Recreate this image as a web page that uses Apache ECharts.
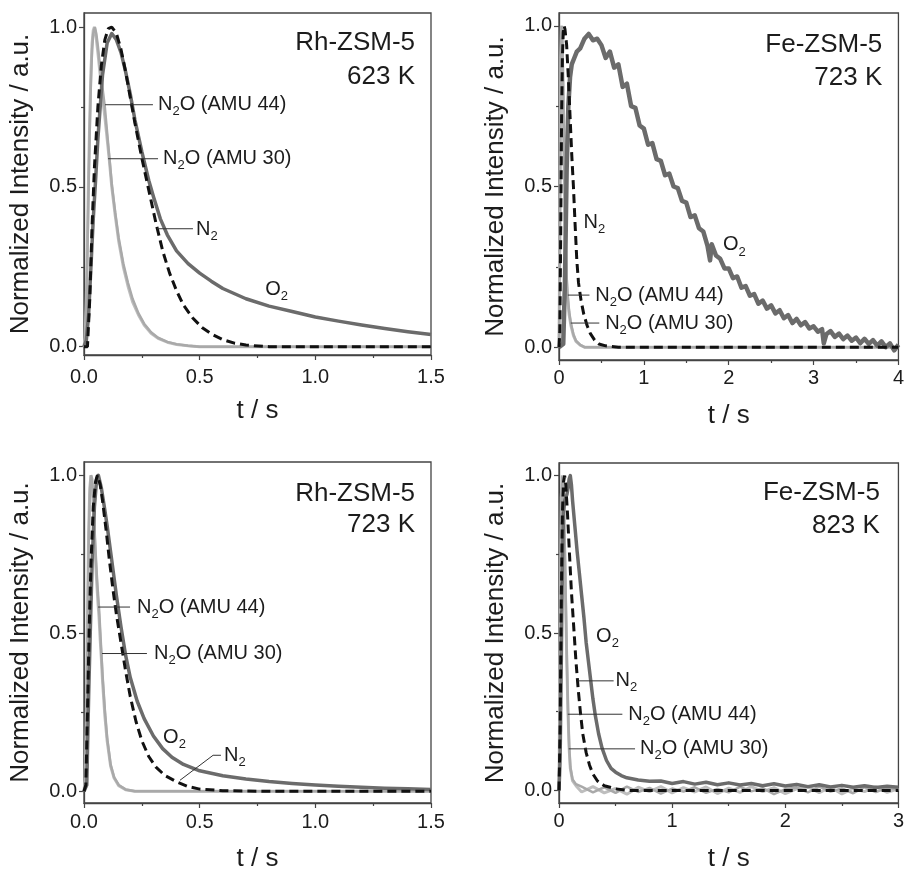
<!DOCTYPE html>
<html>
<head>
<meta charset="utf-8">
<script src="https://cdn.jsdelivr.net/npm/echarts@6/dist/echarts.min.js"></script>
<style>
  html, body { margin: 0; padding: 0; background: #fff; }
  #chart { width: 907px; height: 873px; }
</style>
</head>
<body>
<div id="chart"></div>
<script>
// ---------- Transient responses, [t / s, normalized intensity] ----------

// Rh-ZSM-5, 623 K
const rh623_N2O44 = [[0,0],[0.005,0.02],[0.01,0.12],[0.015,0.3],[0.02,0.5],[0.025,0.68],[0.03,0.83],[0.035,0.93],[0.04,0.98],[0.047,1.0],[0.053,0.98],[0.06,0.94],[0.07,0.87],[0.08,0.81],[0.09,0.75],[0.1,0.67],[0.11,0.59],[0.12,0.51],[0.135,0.42],[0.15,0.34],[0.17,0.26],[0.19,0.2],[0.21,0.15],[0.235,0.105],[0.26,0.072],[0.29,0.045],[0.32,0.028],[0.36,0.015],[0.4,0.008],[0.45,0.003],[0.5,0],[1.5,0]];
const rh623_N2O30 = [[0,0],[0.005,0.03],[0.01,0.15],[0.015,0.34],[0.02,0.55],[0.025,0.72],[0.03,0.86],[0.035,0.95],[0.04,0.99],[0.045,1.0],[0.052,0.97],[0.06,0.92],[0.07,0.85],[0.08,0.78],[0.09,0.72],[0.1,0.65],[0.11,0.58],[0.12,0.5],[0.135,0.41],[0.15,0.33],[0.17,0.25],[0.19,0.19],[0.21,0.14],[0.235,0.1],[0.26,0.068],[0.29,0.042],[0.32,0.026],[0.36,0.014],[0.4,0.007],[0.45,0.003],[0.5,0],[1.5,0]];
const rh623_O2 = [[0,0],[0.01,0.02],[0.02,0.1],[0.03,0.25],[0.04,0.4],[0.05,0.52],[0.06,0.65],[0.08,0.85],[0.1,0.95],[0.12,0.98],[0.14,0.96],[0.16,0.92],[0.18,0.86],[0.2,0.79],[0.22,0.71],[0.25,0.61],[0.28,0.52],[0.3,0.47],[0.33,0.4],[0.36,0.35],[0.4,0.3],[0.45,0.26],[0.5,0.23],[0.55,0.205],[0.6,0.182],[0.7,0.15],[0.8,0.127],[0.9,0.11],[1.0,0.093],[1.1,0.08],[1.2,0.068],[1.3,0.057],[1.4,0.047],[1.5,0.038]];
const rh623_N2 = [[0,0],[0.015,0],[0.025,0.15],[0.035,0.38],[0.045,0.56],[0.06,0.75],[0.075,0.88],[0.09,0.96],[0.105,0.995],[0.12,1.0],[0.14,0.98],[0.16,0.93],[0.18,0.86],[0.2,0.78],[0.22,0.7],[0.25,0.59],[0.28,0.49],[0.31,0.39],[0.34,0.3],[0.37,0.23],[0.4,0.175],[0.43,0.13],[0.47,0.09],[0.51,0.06],[0.55,0.04],[0.6,0.022],[0.65,0.011],[0.7,0.005],[0.8,0],[1.5,0]];

// Fe-ZSM-5, 723 K
const fe723_N2O44 = [[0,0],[0.01,0.3],[0.02,0.85],[0.03,1.0],[0.04,0.95],[0.05,0.8],[0.06,0.6],[0.07,0.43],[0.08,0.3],[0.09,0.22],[0.1,0.17],[0.12,0.11],[0.14,0.075],[0.17,0.04],[0.2,0.02],[0.25,0.007],[0.3,0],[4,0]];
const fe723_N2O30 = [[0,0],[0.01,0.35],[0.02,0.9],[0.028,1.0],[0.04,0.92],[0.05,0.76],[0.06,0.56],[0.07,0.4],[0.08,0.28],[0.09,0.2],[0.1,0.155],[0.12,0.1],[0.14,0.068],[0.17,0.036],[0.2,0.018],[0.25,0.006],[0.3,0],[4,0]];
const fe723_O2 = [[0,0],[0.05,0.01],[0.07,0.2],[0.09,0.55],[0.11,0.75],[0.13,0.84],[0.15,0.88],[0.18,0.9],[0.21,0.92],[0.25,0.93],[0.3,0.96],[0.35,0.975],[0.4,0.955],[0.45,0.96],[0.5,0.94],[0.55,0.9],[0.6,0.92],[0.65,0.87],[0.7,0.88],[0.75,0.81],[0.8,0.82],[0.85,0.75],[0.9,0.745],[0.95,0.69],[1.0,0.68],[1.05,0.63],[1.1,0.635],[1.15,0.585],[1.2,0.58],[1.25,0.535],[1.3,0.54],[1.35,0.5],[1.4,0.495],[1.45,0.455],[1.5,0.45],[1.55,0.405],[1.6,0.41],[1.65,0.37],[1.7,0.36],[1.75,0.315],[1.78,0.27],[1.8,0.32],[1.85,0.285],[1.9,0.275],[1.95,0.245],[2.0,0.245],[2.05,0.215],[2.1,0.22],[2.15,0.185],[2.2,0.19],[2.25,0.16],[2.3,0.165],[2.35,0.135],[2.4,0.145],[2.45,0.12],[2.5,0.13],[2.55,0.105],[2.6,0.115],[2.65,0.09],[2.7,0.1],[2.75,0.075],[2.8,0.088],[2.85,0.068],[2.9,0.078],[2.95,0.058],[3.0,0.065],[3.05,0.048],[3.1,0.056],[3.12,0.012],[3.15,0.04],[3.2,0.05],[3.25,0.032],[3.3,0.042],[3.35,0.025],[3.4,0.036],[3.45,0.02],[3.5,0.03],[3.55,0.012],[3.6,0.026],[3.65,0.01],[3.7,0.022],[3.75,0.005],[3.8,0.018],[3.85,0.0],[3.9,0.012],[3.95,-0.01],[4.0,0.008]];
const fe723_N2 = [[0,0],[0.01,0.05],[0.02,0.35],[0.03,0.7],[0.04,0.9],[0.05,0.98],[0.06,1.0],[0.07,0.99],[0.09,0.94],[0.11,0.84],[0.13,0.72],[0.15,0.6],[0.17,0.5],[0.19,0.38],[0.21,0.27],[0.23,0.2],[0.26,0.145],[0.29,0.105],[0.33,0.068],[0.37,0.042],[0.42,0.022],[0.47,0.01],[0.55,0.004],[0.7,0],[4,0]];

// Rh-ZSM-5, 723 K
const rh723_N2O44 = [[0,0],[0.005,0.03],[0.01,0.2],[0.015,0.5],[0.02,0.78],[0.025,0.94],[0.03,1.0],[0.035,0.99],[0.04,0.93],[0.045,0.84],[0.05,0.76],[0.055,0.69],[0.06,0.63],[0.065,0.58],[0.07,0.51],[0.075,0.44],[0.08,0.37],[0.09,0.26],[0.1,0.17],[0.115,0.085],[0.13,0.045],[0.15,0.02],[0.18,0.006],[0.22,0],[1.5,0]];
const rh723_N2O30 = [[0,0],[0.005,0.04],[0.01,0.24],[0.015,0.55],[0.02,0.82],[0.025,0.96],[0.03,1.0],[0.035,0.97],[0.04,0.9],[0.045,0.81],[0.05,0.73],[0.055,0.66],[0.06,0.6],[0.065,0.55],[0.07,0.48],[0.075,0.42],[0.08,0.35],[0.09,0.24],[0.1,0.16],[0.115,0.08],[0.13,0.042],[0.15,0.018],[0.18,0.005],[0.22,0],[1.5,0]];
const rh723_O2 = [[0,0],[0.012,0.02],[0.02,0.3],[0.027,0.5],[0.035,0.72],[0.045,0.9],[0.055,0.99],[0.062,1.0],[0.075,0.96],[0.09,0.89],[0.1,0.84],[0.12,0.73],[0.14,0.62],[0.16,0.52],[0.18,0.43],[0.2,0.36],[0.23,0.285],[0.26,0.23],[0.3,0.175],[0.34,0.135],[0.38,0.108],[0.43,0.085],[0.5,0.065],[0.6,0.049],[0.7,0.039],[0.8,0.031],[0.9,0.025],[1.0,0.02],[1.1,0.016],[1.2,0.013],[1.3,0.01],[1.4,0.008],[1.5,0.006]];
const rh723_N2 = [[0,0],[0.008,0.02],[0.015,0.25],[0.022,0.5],[0.03,0.72],[0.04,0.9],[0.05,0.98],[0.058,1.0],[0.07,0.97],[0.08,0.92],[0.095,0.83],[0.11,0.73],[0.125,0.64],[0.14,0.56],[0.16,0.47],[0.18,0.38],[0.2,0.3],[0.225,0.22],[0.25,0.16],[0.28,0.11],[0.31,0.077],[0.35,0.05],[0.4,0.03],[0.45,0.015],[0.5,0.007],[0.6,0.002],[0.8,0],[1.5,0]];

// Fe-ZSM-5, 823 K
const fe823_N2O44 = [[0,0],[0.01,0.45],[0.02,0.9],[0.03,1.0],[0.04,0.93],[0.05,0.8],[0.06,0.6],[0.07,0.41],[0.08,0.25],[0.09,0.14],[0.1,0.075],[0.12,0.035],[0.15,0.02],[0.2,0.012],[0.3,-0.006],[0.4,0.01],[0.5,-0.008],[0.6,0.012],[0.7,-0.005],[0.8,0.008],[0.9,-0.01],[1.0,0.006],[1.1,-0.004],[1.2,0.01],[1.3,-0.008],[1.4,0.005],[1.5,-0.006],[1.6,0.011],[1.7,-0.003],[1.8,0.007],[1.9,-0.012],[2.0,0.004],[2.1,0.009],[2.2,-0.006],[2.3,0.012],[2.4,-0.004],[2.5,0.006],[2.6,-0.009],[2.7,0.01],[2.8,-0.005],[2.9,0.008],[3.0,0.002]];
const fe823_N2O30 = [[0,0],[0.01,0.5],[0.02,0.93],[0.028,1.0],[0.04,0.9],[0.05,0.76],[0.06,0.57],[0.07,0.39],[0.08,0.24],[0.09,0.13],[0.1,0.07],[0.12,0.03],[0.15,0.015],[0.2,-0.005],[0.3,0.012],[0.4,-0.008],[0.5,0.006],[0.6,-0.012],[0.7,0.01],[0.8,-0.004],[0.9,0.012],[1.0,-0.008],[1.1,0.009],[1.2,-0.005],[1.3,0.011],[1.4,-0.01],[1.5,0.007],[1.6,-0.006],[1.7,0.012],[1.8,-0.004],[1.9,0.009],[2.0,-0.01],[2.1,0.005],[2.2,0.011],[2.3,-0.007],[2.4,0.01],[2.5,-0.011],[2.6,0.006],[2.7,-0.004],[2.8,0.012],[2.9,-0.006],[3.0,0.005]];
const fe823_O2 = [[0,0],[0.01,0.1],[0.02,0.4],[0.03,0.72],[0.04,0.88],[0.05,0.92],[0.06,0.93],[0.07,0.94],[0.08,0.96],[0.09,0.99],[0.1,1.0],[0.11,0.97],[0.12,0.92],[0.14,0.84],[0.16,0.76],[0.18,0.69],[0.2,0.62],[0.22,0.55],[0.24,0.47],[0.26,0.41],[0.28,0.35],[0.3,0.29],[0.32,0.24],[0.35,0.18],[0.38,0.135],[0.42,0.095],[0.46,0.07],[0.5,0.058],[0.55,0.047],[0.6,0.04],[0.7,0.033],[0.8,0.029],[0.9,0.03],[1.0,0.022],[1.1,0.028],[1.2,0.02],[1.3,0.026],[1.4,0.018],[1.5,0.024],[1.6,0.017],[1.7,0.022],[1.8,0.015],[1.9,0.021],[2.0,0.014],[2.1,0.019],[2.2,0.012],[2.3,0.018],[2.4,0.011],[2.5,0.016],[2.6,0.01],[2.7,0.015],[2.8,0.009],[2.9,0.013],[3.0,0.01]];
const fe823_N2 = [[0,0],[0.01,0.2],[0.02,0.6],[0.03,0.88],[0.04,0.98],[0.05,1.0],[0.06,0.97],[0.075,0.88],[0.09,0.77],[0.11,0.63],[0.13,0.52],[0.15,0.41],[0.17,0.32],[0.19,0.245],[0.21,0.18],[0.24,0.12],[0.27,0.08],[0.3,0.052],[0.34,0.03],[0.4,0.015],[0.5,0.005],[0.6,0],[3,0]];

// ---------- Tick values ----------
const yTicks = [0, 0.5, 1.0];
const yMinorTicks = [0.25, 0.75];
const xTicksRh = [0, 0.5, 1.0, 1.5];
const xMinorRh = [0.25, 0.75, 1.25];
const xTicksFe723 = [0, 1, 2, 3, 4];
const xMinorFe723 = [0.5, 1.5, 2.5, 3.5];
const xTicksFe823 = [0, 1, 2, 3];
const xMinorFe823 = [0.5, 1.5, 2.5];

// ---------- Panel texts ([t, v] anchors in data units) ----------
const titlesRh623 = ['Rh-ZSM-5', '623 K'];
const titlesFe723 = ['Fe-ZSM-5', '723 K'];
const titlesRh723 = ['Rh-ZSM-5', '723 K'];
const titlesFe823 = ['Fe-ZSM-5', '823 K'];

// each note: text (with _x marking a subscript), text anchor, optional leader path
const notesRh623 = [
  { text: 'N_2O (AMU 44)', at: [0.32, 0.757], leader: [[0.091, 0.757], [0.298, 0.757]] },
  { text: 'N_2O (AMU 30)', at: [0.342, 0.588], leader: [[0.104, 0.588], [0.32, 0.588]] },
  { text: 'N_2', at: [0.484, 0.367], leader: [[0.316, 0.369], [0.471, 0.369]] },
  { text: 'O_2', at: [0.783, 0.178] }
];
const notesFe723 = [
  { text: 'N_2', at: [0.289, 0.389] },
  { text: 'O_2', at: [1.933, 0.318] },
  { text: 'N_2O (AMU 44)', at: [0.428, 0.162], leader: [[0.104, 0.162], [0.359, 0.162]] },
  { text: 'N_2O (AMU 30)', at: [0.544, 0.075], leader: [[0.139, 0.075], [0.475, 0.075]] }
];
const notesRh723 = [
  { text: 'N_2O (AMU 44)', at: [0.229, 0.583], leader: [[0.061, 0.583], [0.199, 0.583]] },
  { text: 'N_2O (AMU 30)', at: [0.303, 0.436], leader: [[0.078, 0.436], [0.272, 0.436]] },
  { text: 'O_2', at: [0.342, 0.17] },
  { text: 'N_2', at: [0.605, 0.114], leader: [[0.592, 0.114], [0.558, 0.114], [0.415, 0.035]] }
];
const notesFe823 = [
  { text: 'O_2', at: [0.328, 0.488] },
  { text: 'N_2', at: [0.5, 0.348], leader: [[0.164, 0.348], [0.483, 0.348]] },
  { text: 'N_2O (AMU 44)', at: [0.612, 0.242], leader: [[0.078, 0.242], [0.56, 0.242]] },
  { text: 'N_2O (AMU 30)', at: [0.716, 0.132], leader: [[0.086, 0.132], [0.672, 0.132]] }
];

// ---------- Layout & styling ----------
const FONT = '"Liberation Sans", Arial, Helvetica, sans-serif';
const INK = '#1c1c1c';
const AXIS = '#444';
const C_O2 = '#6b6b6b', C_44 = '#a9a9a9', C_30 = '#bebebe', C_N2 = '#111111';

const panels = [
  { grid: { left: 84, top: 13, width: 347, height: 342 }, yMin: -0.026, yMax: 1.044, xMax: 1.5,
    xTicks: xTicksRh, xMinor: xMinorRh, xDec: 1, xMargin: 12, titles: titlesRh623, titleAt: [1.431, 0.951, 0.845],
    notes: notesRh623, o2w: 3.5, series: [rh623_N2O30, rh623_N2O44, rh623_O2, rh623_N2] },
  { grid: { left: 559, top: 13, width: 346, height: 347 }, yMin: -0.04, yMax: 1.04, xMax: 4,
    xTicks: xTicksFe723, xMinor: xMinorFe723, xDec: 0, xMargin: 8, titles: titlesFe723, titleAt: [3.81, 0.941, 0.838],
    notes: notesFe723, o2w: 4.5, series: [fe723_N2O30, fe723_N2O44, fe723_O2, fe723_N2] },
  { grid: { left: 84, top: 462, width: 347, height: 345 }, yMin: -0.037, yMax: 1.042, xMax: 1.5,
    xTicks: xTicksRh, xMinor: xMinorRh, xDec: 1, xMargin: 9, titles: titlesRh723, titleAt: [1.431, 0.942, 0.842],
    notes: notesRh723, o2w: 3.5, series: [rh723_N2O30, rh723_N2O44, rh723_O2, rh723_N2] },
  { grid: { left: 559, top: 463, width: 348, height: 345 }, yMin: -0.04, yMax: 1.04, xMax: 3,
    xTicks: xTicksFe823, xMinor: xMinorFe823, xDec: 0, xMargin: 8, titles: titlesFe823, titleAt: [2.836, 0.945, 0.842],
    notes: notesFe823, o2w: 3.5, series: [fe823_N2O30, fe823_N2O44, fe823_O2, fe823_N2] }
];

const tickLine = { color: AXIS, width: 1.2 };
const grids = [], xAxes = [], yAxes = [], series = [];

panels.forEach((p, i) => {
  grids.push(Object.assign({ show: true, borderColor: AXIS, borderWidth: 1.3, containLabel: false }, p.grid));
  // main x axis: line, labelled ticks, name
  xAxes.push({
    type: 'value', gridIndex: i, position: 'bottom', min: 0, max: p.xMax,
    axisLine: { show: true, onZero: false, lineStyle: { color: AXIS, width: 1.3 } },
    axisTick: { show: true, inside: false, length: 5, lineStyle: tickLine, customValues: p.xTicks },
    axisLabel: { show: true, margin: p.xMargin, fontSize: 20, fontFamily: FONT, color: INK,
      customValues: p.xTicks, formatter: v => Number(v).toFixed(p.xDec) },
    splitLine: { show: false },
    name: 't / s', nameLocation: 'middle', nameGap: 43,
    nameTextStyle: { fontSize: 26, fontFamily: FONT, color: INK }
  });
  // short minor ticks
  xAxes.push({
    type: 'value', gridIndex: i, position: 'bottom', min: 0, max: p.xMax,
    axisLine: { show: false, onZero: false },
    axisTick: { show: true, inside: false, length: 3, lineStyle: tickLine, customValues: p.xMinor },
    axisLabel: { show: false }, splitLine: { show: false }
  });
  yAxes.push({
    type: 'value', gridIndex: i, position: 'left', min: p.yMin, max: p.yMax,
    axisLine: { show: true, onZero: false, lineStyle: { color: AXIS, width: 1.3 } },
    axisTick: { show: true, inside: false, length: 5, lineStyle: tickLine, customValues: yTicks },
    axisLabel: { show: true, margin: 7, fontSize: 20, fontFamily: FONT, color: INK,
      customValues: yTicks, formatter: v => Number(v).toFixed(1) },
    splitLine: { show: false },
    name: 'Normalized Intensity / a.u.', nameLocation: 'middle', nameGap: 50,
    nameTextStyle: { fontSize: 26, fontFamily: FONT, color: INK }
  });
  yAxes.push({
    type: 'value', gridIndex: i, position: 'left', min: p.yMin, max: p.yMax,
    axisLine: { show: false, onZero: false },
    axisTick: { show: true, inside: false, length: 3, lineStyle: tickLine, customValues: yMinorTicks },
    axisLabel: { show: false }, splitLine: { show: false }
  });

  const [d30, d44, dO2, dN2] = p.series;
  const base = { type: 'line', xAxisIndex: 2 * i, yAxisIndex: 2 * i, showSymbol: false, symbol: 'none',
    animation: false, silent: true };
  series.push(Object.assign({}, base, { name: 'N2O (AMU 30)', data: d30, z: 2,
    lineStyle: { color: C_30, width: 3 } }));
  series.push(Object.assign({}, base, { name: 'N2O (AMU 44)', data: d44, z: 3,
    lineStyle: { color: C_44, width: 2.5 } }));
  series.push(Object.assign({}, base, { name: 'O2', data: dO2, z: 4,
    lineStyle: { color: C_O2, width: p.o2w, join: 'round' } }));
  series.push(Object.assign({}, base, { name: 'N2', data: dN2, z: 5,
    lineStyle: { color: C_N2, width: 3, type: [9, 5], cap: 'butt' } }));
});

const chart = echarts.init(document.getElementById('chart'), null, { renderer: 'canvas' });
chart.setOption({
  animation: false,
  backgroundColor: '#ffffff',
  grid: grids, xAxis: xAxes, yAxis: yAxes, series: series
});

// ---------- annotations positioned through the axes ----------
const measureCtx = document.createElement('canvas').getContext('2d');
function textWidth(s, size) {
  measureCtx.font = size + 'px ' + FONT;
  return measureCtx.measureText(s).width;
}
function toPx(i, pt) {
  return chart.convertToPixel({ xAxisIndex: 2 * i, yAxisIndex: 2 * i }, pt);
}
function subLabel(x, y, str) {
  const parts = [];
  let cur = '';
  for (let k = 0; k < str.length; k++) {
    if (str[k] === '_') {
      if (cur) parts.push({ t: cur, sub: false });
      parts.push({ t: str[k + 1], sub: true });
      cur = ''; k++;
    } else cur += str[k];
  }
  if (cur) parts.push({ t: cur, sub: false });
  const out = [];
  let cx = x;
  parts.forEach(pt => {
    const fs = pt.sub ? 13 : 20;
    out.push({ type: 'text', silent: true, z: 20,
      style: { text: pt.t, x: cx, y: pt.sub ? y + 7 : y, fontSize: fs, fontFamily: FONT,
        fill: INK, align: 'left', verticalAlign: 'middle' } });
    cx += textWidth(pt.t, fs);
  });
  return out;
}

const graphics = [];
panels.forEach((p, i) => {
  const a = toPx(i, [p.titleAt[0], p.titleAt[1]]);
  const b = toPx(i, [p.titleAt[0], p.titleAt[2]]);
  [[p.titles[0], a], [p.titles[1], b]].forEach(([txt, pos]) => {
    graphics.push({ type: 'text', silent: true, z: 20,
      style: { text: txt, x: pos[0], y: pos[1], fontSize: 26, fontFamily: FONT, fill: INK,
        align: 'right', verticalAlign: 'middle' } });
  });
  p.notes.forEach(n => {
    if (n.leader) {
      const pts = n.leader.map(q => toPx(i, q));
      graphics.push({ type: 'polyline', silent: true, z: 19,
        shape: { points: pts }, style: { stroke: '#333', lineWidth: 1, fill: null } });
    }
    const at = toPx(i, n.at);
    subLabel(at[0], at[1], n.text).forEach(g => graphics.push(g));
  });
});
chart.setOption({ graphic: graphics });
</script>
</body>
</html>
